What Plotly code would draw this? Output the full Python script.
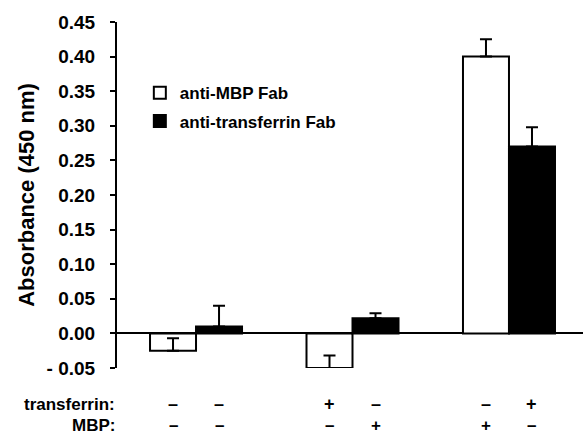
import plotly.graph_objects as go

# Data
groups = [0, 1, 2]
series_names = ["anti-MBP Fab", "anti-transferrin Fab"]
mbp_fab = [-0.025, -0.050, 0.400]
mbp_err = [0.018, 0.018, 0.025]
tf_fab = [0.010, 0.022, 0.270]
tf_err = [0.030, 0.007, 0.028]
transferrin_signs = ["–", "–", "+", "–", "–", "+"]
mbp_signs = ["–", "–", "–", "+", "+", "–"]
ytick_vals = [-0.05, 0.0, 0.05, 0.10, 0.15, 0.20, 0.25, 0.30, 0.35, 0.40, 0.45]
ytick_text = ["- 0.05", "0.00", "0.05", "0.10", "0.15", "0.20", "0.25", "0.30", "0.35", "0.40", "0.45"]

FONT = "Liberation Sans, Arial, sans-serif"
BARGAP = 0.412
bar_w = (1 - BARGAP) / 2

fig = go.Figure()
fig.add_trace(go.Bar(
    x=groups, y=mbp_fab, name=series_names[0], legendgroup="a",
    marker=dict(color="white", line=dict(color="black", width=2)),
    error_y=dict(type="data", symmetric=False, array=mbp_err,
                 arrayminus=[0] * len(mbp_err), color="black", thickness=2, width=6),
))
fig.add_trace(go.Bar(
    x=groups, y=tf_fab, name=series_names[1], legendgroup="b",
    marker=dict(color="black", line=dict(color="black", width=2)),
    error_y=dict(type="data", symmetric=False, array=tf_err,
                 arrayminus=[0] * len(tf_err), color="black", thickness=2, width=6),
))

annotations = []
positions = []
for g in groups:
    positions.append(g - bar_w / 2)
    positions.append(g + bar_w / 2)
for xpos, s1, s2 in zip(positions, transferrin_signs, mbp_signs):
    annotations.append(dict(x=xpos, y=0, xref="x", yref="paper", yanchor="middle",
                            yshift=-36, text=s1, showarrow=False,
                            font=dict(size=18, color="black", family=FONT, weight="bold")))
    annotations.append(dict(x=xpos, y=0, xref="x", yref="paper", yanchor="middle",
                            yshift=-57, text=s2, showarrow=False,
                            font=dict(size=17, color="black", family=FONT, weight="bold")))
annotations.append(dict(x=0, y=0, xref="paper", yref="paper", xanchor="right", yanchor="middle",
                        yshift=-36, text="transferrin:", showarrow=False,
                        font=dict(size=17, color="black", family=FONT, weight="bold")))
annotations.append(dict(x=0, y=0, xref="paper", yref="paper", xanchor="right", yanchor="middle",
                        yshift=-57, text="MBP:", showarrow=False,
                        font=dict(size=17, color="black", family=FONT, weight="bold")))

fig.update_layout(
    width=583, height=437,
    margin=dict(l=117, r=0, t=22, b=69),
    paper_bgcolor="white", plot_bgcolor="white",
    font=dict(family=FONT, color="black", weight="bold"),
    barmode="group", bargap=BARGAP, bargroupgap=0,
    showlegend=True,
    legend=dict(x=0.049, y=0.846, xanchor="left", yanchor="top",
                font=dict(size=17, family=FONT, color="black", weight="bold"),
                tracegroupgap=3, bgcolor="rgba(0,0,0,0)"),
    xaxis=dict(range=[-0.505, 2.473], showticklabels=False, showline=False,
               showgrid=False, zeroline=False, ticks=""),
    yaxis=dict(range=[-0.05, 0.45], tickvals=ytick_vals, ticktext=ytick_text,
               showline=True, linecolor="black", linewidth=2,
               ticks="outside", ticklen=5, tickwidth=2, tickcolor="black",
               ticklabelstandoff=11,
               showgrid=False, zeroline=True, zerolinecolor="black", zerolinewidth=2,
               tickfont=dict(size=19, family=FONT, color="black", weight="bold"),
               title=dict(text="Absorbance (450 nm)", standoff=6,
                          font=dict(size=22, family=FONT, color="black", weight="bold"))),
    annotations=annotations,
)

fig.write_html("out.html")
